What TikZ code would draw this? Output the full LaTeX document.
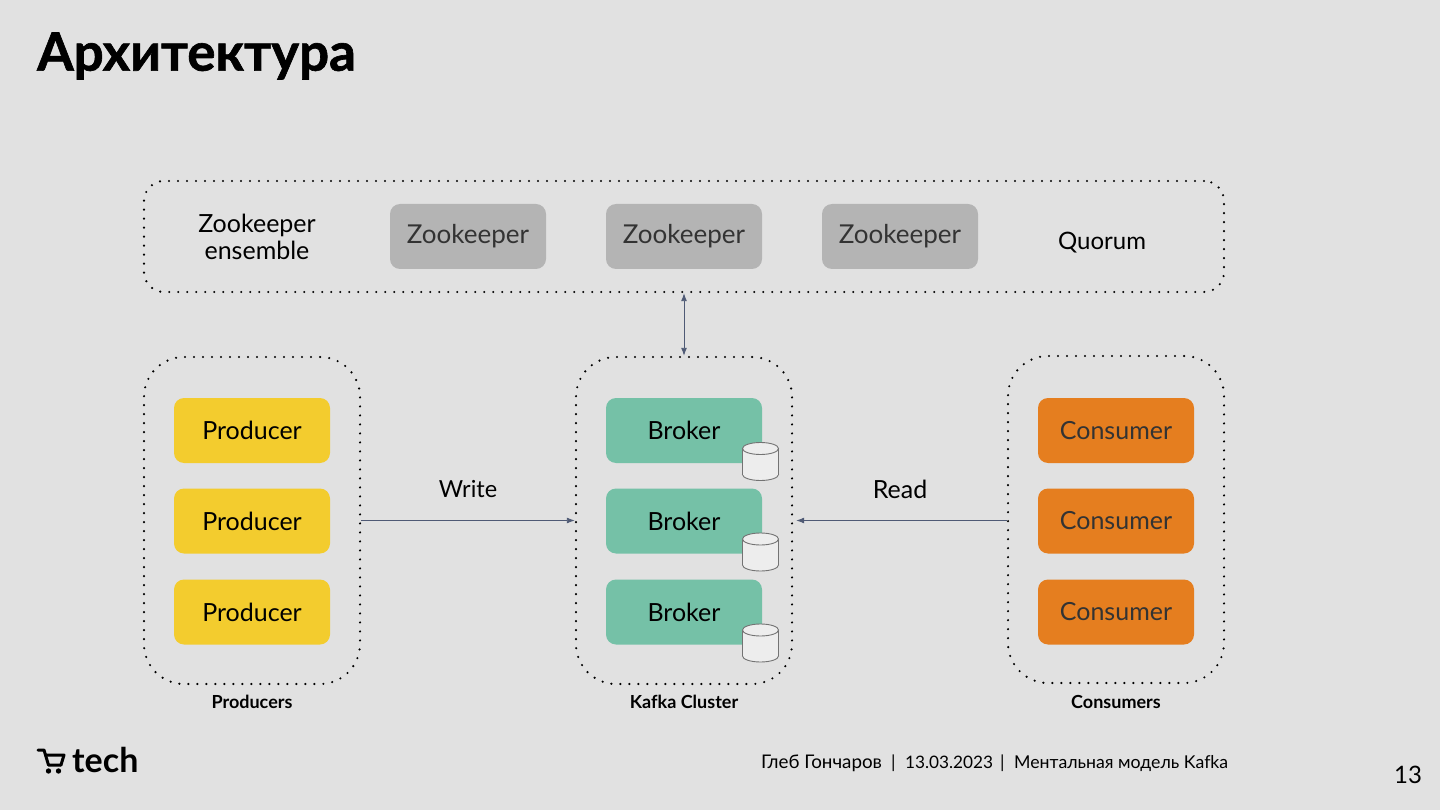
\documentclass[tikz,border=0pt]{standalone}
\usepackage{fontspec}
\setmainfont[Ligatures=NoCommon]{Lato}
\newfontfamily\titlefont[BoldFeatures={FakeBold=1.2}]{Lato}
\usetikzlibrary{arrows.meta}
\definecolor{slidebg}{HTML}{E1E1E1}
\definecolor{zkgray}{HTML}{B4B4B4}
\definecolor{prodyellow}{HTML}{F3CC2E}
\definecolor{brokergreen}{HTML}{75C1A7}
\definecolor{consorange}{HTML}{E57E1F}
\definecolor{linkslate}{HTML}{4F5A75}
\tikzset{
  groupbox/.style={draw=black,line width=2.4pt,line cap=round,dash pattern=on 0pt off 9pt,minimum width=#1,inner sep=0pt},
  card/.style={rounded corners=10pt,minimum width=156pt,minimum height=65pt,inner sep=0pt,font=\fontsize{25}{25}\selectfont},
  zkcard/.style={card,fill=zkgray,text=black!80,font=\fontsize{26}{26}\selectfont},
  prodcard/.style={card,fill=prodyellow},
  brokercard/.style={card,fill=brokergreen},
  conscard/.style={card,fill=consorange,text=black!80},
  diskline/.style={draw=black!55,line width=0.9pt,fill=black!7},
  label/.style={font=\fontsize{25}{27}\selectfont,align=center},
  caption/.style={font=\bfseries\fontsize{18}{18}\selectfont},
  footnote/.style={anchor=base west,inner sep=0pt,font=\fontsize{#1}{20}\selectfont},
  link/.style={line width=0.9pt,draw=linkslate,-{Latex[length=8pt,width=6pt]}},
  disk/.pic={
    \path[diskline] (0,13) ellipse (18pt and 6pt);
    \fill[black!7] (-18,-13) rectangle (18,13);
    \draw[draw=black!55,line width=0.9pt] (-18,-13) -- (-18,13) (18,-13) -- (18,13);
    \path[diskline] (0,-13) ellipse (18pt and 6pt);
  },
}
\begin{document}
\begin{tikzpicture}[x=1pt,y=-1pt]
\fill[slidebg] (0,0) rectangle (1440,810);
\useasboundingbox (0,0) rectangle (1440,810);

% Title
\node[anchor=west,inner sep=0pt,font=\fontsize{52.8}{54}\titlefont\bfseries] (title) at (37,56) {Архитектура};

% Dotted groups
\node[groupbox=1080pt,minimum height=111pt,rounded corners=20pt] (zkgroup) at (684,236.5) {};
\node[groupbox=216pt,minimum height=327pt,rounded corners=40pt] (prodgroup) at (252,520.5) {};
\node[groupbox=216pt,minimum height=327pt,rounded corners=40pt] (cluster) at (684,520.5) {};
\node[groupbox=216pt,minimum height=327pt,rounded corners=40pt] (consgroup) at (1116,519.5) {};

% Zookeeper row
\node[label] (zklabel) at (257,236.5) {Zookeeper\\ensemble};
\node[zkcard] (zk1) at (468,236.5) {Zookeeper};
\node[zkcard] (zk2) at (684,236.5) {Zookeeper};
\node[zkcard] (zk3) at (900,236.5) {Zookeeper};
\node[label,font=\fontsize{24}{27}\selectfont] (quorum) at (1102,243) {Quorum};

% Producers, brokers, consumers
\foreach \row/\ypos in {1/430.5,2/521,3/612}{
  \node[prodcard] (prod\row) at (252,\ypos) {Producer};
  \node[brokercard] (broker\row) at (684,\ypos) {Broker};
  \pic at (760.5,\ypos+31) {disk};
  \node[conscard] (cons\row) at (1116,\ypos) {Consumer};
}

% Links
\draw[link,{Latex[length=8pt,width=6pt]}-{Latex[length=8pt,width=6pt]}] (zkgroup.south) -- (cluster.north);
\draw[link] (prodgroup.east) -- (cluster.west);
\draw[link] (consgroup.west|-cluster.east) -- ([xshift=3pt]cluster.east);
\node[label,font=\fontsize{23.5}{27}\selectfont] (write) at (468,489) {Write};
\node[label] (read) at (900,489) {Read};

% Captions
\node[caption] (prodcap) at (252,701.5) {Producers};
\node[caption] (clustercap) at (684,701.5) {Kafka Cluster};
\node[caption] (conscap) at (1116,701.5) {Consumers};

% Footer
\draw[line width=3pt,line cap=round,line join=round] (38,750) -- (44,750) -- (48.5,765) -- (61,765);
\draw[line width=3pt,line cap=round,line join=round] (46,755) -- (64,755) -- (61,765);
\fill (48.5,771) circle (2.7pt) (58.5,771) circle (2.7pt);
\node[anchor=west,font=\fontsize{34}{34}\selectfont\bfseries,inner sep=0pt] (tech) at (72,760) {tech};
\node[footnote=18.8] (speaker) at (761,768) {Глеб Гончаров};
\node[footnote=17.8] (sepa) at (891,768) {|};
\node[footnote=17.2] (date) at (905,768) {13.03.2023};
\node[footnote=17.8] (sepb) at (1000,768) {|};
\node[footnote=17.7] (talk) at (1014,768) {Ментальная модель Kafka};
\node[font=\fontsize{24}{24}\selectfont,inner sep=0pt] (pageno) at (1408,775) {13};
\end{tikzpicture}
\end{document}
